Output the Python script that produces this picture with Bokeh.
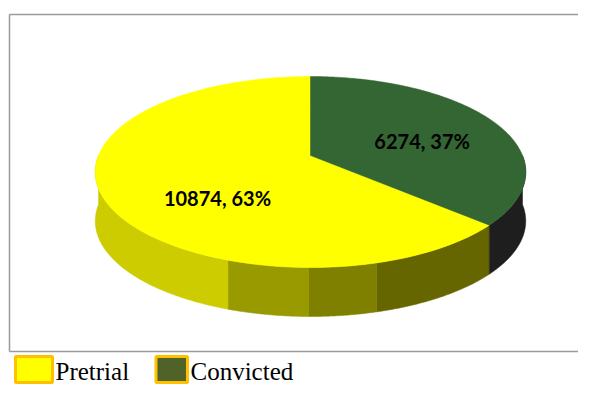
import numpy as np
from bokeh.plotting import figure
from bokeh.models import Range1d
from bokeh.core.properties import value
from bokeh.embed import file_html
from bokeh.resources import INLINE

# ---------------- data ----------------
categories = ["Pretrial", "Convicted"]
counts = [10874, 6274]

# ---------------- style ----------------
top_colors = ["#FFFF00", "#336633"]
legend_fill = ["#FFFF00", "#4F6228"]
side_shades = {  # per slice: list of (angle_upper_bound, colour) for the visible front wall
    0: [(165.0, "#666600"), (180.5, "#808000"), (199.0, "#999900"), (361.0, "#CCCC00")],
    1: [(361.0, "#1E1E1E")],
}
label_shift_deg = [-22.0, 7.5]
label_r = [0.587, 0.565]

W, H = 578, 385

# perspective model of the pie (picture pixel coordinates)
CX, CY = 310.0, 155.0      # projected centre (apex of wedges)
DIST = 5.2                 # camera distance (radius units)
FOC = 212.0 * DIST         # focal length in px
S_PHI, C_PHI = 0.437, 0.899
THICK = 49.0               # wall height in px


def project(X, Z):
    d = DIST - Z * C_PHI
    return CX + FOC * X / d, CY + FOC * Z * S_PHI / d


def arc(a, b, r=1.0, n=120):
    t = np.radians(np.linspace(a, b, n))
    xs, ys = project(r * np.sin(t), -r * np.cos(t))
    return list(xs), list(ys)


p = figure(width=W, height=H, x_range=Range1d(0, W), y_range=Range1d(H, 0),
           output_backend="svg", toolbar_location=None, min_border=0)
p.axis.visible = False
p.grid.visible = False
p.outline_line_color = None
p.background_fill_color = "white"
p.border_fill_color = "white"

# chart-area border (top, left, bottom)
p.line([9, 700], [14, 14], line_color="#9a9a9a", line_width=1.5)
p.line([9, 9], [14, 351], line_color="#9a9a9a", line_width=1.5)
p.line([9, 700], [351, 351], line_color="#9a9a9a", line_width=1.5)

total = float(sum(counts))
fracs = [c / total for c in counts]
# slice angles, clockwise from the far (12 o'clock) point
conv_span = 360.0 * fracs[1]
spans = {1: (0.0, conv_span), 0: (conv_span, 360.0)}

# front walls
for i in range(len(counts)):
    a, b = spans[i]
    lo, hi = max(a, 90.0), min(b, 270.0)
    if lo >= hi:
        continue
    start = lo
    for ub, col in side_shades[i]:
        end = min(ub, hi)
        if end > start:
            tx, ty = arc(start, end, n=60)
            bx = tx[::-1]
            by = [y + THICK for y in ty[::-1]]
            p.patch(tx + bx, ty + by, fill_color=col, line_color=col, line_width=0.5)
            start = end
        if start >= hi:
            break

# top faces
for i in range(len(counts)):
    a, b = spans[i]
    tx, ty = arc(a, b, n=200)
    p.patch([CX] + tx, [CY] + ty, fill_color=top_colors[i], line_color=top_colors[i], line_width=0.5)

# data labels
lx, ly, lt = [], [], []
for i in range(len(counts)):
    a, b = spans[i]
    m = np.radians((a + b) / 2 + label_shift_deg[i])
    x, y = project(label_r[i] * np.sin(m), -label_r[i] * np.cos(m))
    lx.append(x)
    ly.append(y)
    lt.append(f"{counts[i]}, {round(100 * fracs[i])}%")
p.text(x=lx, y=ly, text=lt, text_font=value("Lato"), text_font_style="bold",
       text_font_size="20px", text_align="center", text_baseline="middle", text_color="black")

# legend (below the chart area)
leg_left = [15, 155.5]
leg_right = [52, 187]
leg_text_x = [55, 190]
p.quad(left=leg_left, right=leg_right, top=[356, 356], bottom=[382, 382],
       fill_color=legend_fill, line_color="#FFC000", line_width=3)
p.text(x=leg_text_x, y=[371, 371], text=categories, text_font=value("Liberation Serif"),
       text_font_size="25px", text_align="left", text_baseline="middle", text_color="black")

open("out.html", "w").write(file_html(p, INLINE))
